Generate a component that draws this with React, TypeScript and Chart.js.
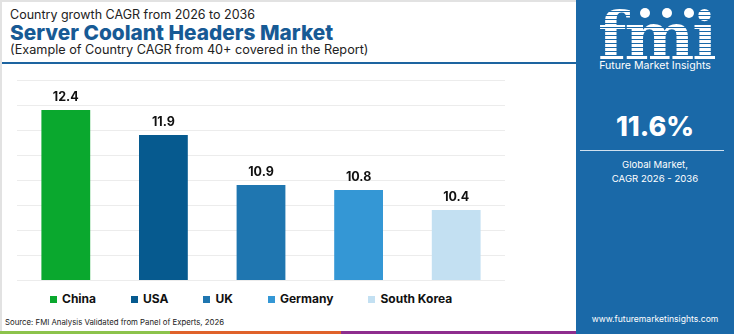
import React, { useEffect, useRef } from "react";
import { Chart, registerables } from "chart.js";

Chart.register(...registerables);

const categories = ["China", "USA", "UK", "Germany", "South Korea"];
const cagrValues = [12.4, 11.9, 10.9, 10.8, 10.4];
const barColors = ["#0aa82e", "#065a8f", "#1f76b0", "#3497d5", "#c3e0f2"];
const axisMin = 9;
const axisMax = 13;
const axisStep = 0.5;

const titleTop = "Country growth CAGR from 2026 to 2036";
const titleMain = "Server Coolant Headers Market";
const titleSub = "(Example of Country CAGR from 40+ covered in the Report)";
const sourceText = "Source: FMI Analysis Validated from Panel of Experts, 2026";
const globalValue = "11.6%";
const globalLabel = ["Global Market,", "CAGR 2026 - 2036"];

const FONT = "Inter, 'Open Sans', sans-serif";

const valueLabels = {
  id: "valueLabels",
  afterDatasetsDraw(chart: any) {
    const ctx = chart.ctx;
    const meta = chart.getDatasetMeta(0);
    ctx.save();
    ctx.font = `bold 12.5px ${FONT}`;
    ctx.fillStyle = "#111";
    ctx.textAlign = "center";
    ctx.textBaseline = "bottom";
    meta.data.forEach((bar: any, i: number) => {
      ctx.fillText(String(chart.data.datasets[0].data[i]), bar.x, bar.y - 7);
    });
    ctx.restore();
  },
};

function BarChart() {
  const ref = useRef<HTMLCanvasElement>(null);
  useEffect(() => {
    if (!ref.current) return;
    const chart = new Chart(ref.current, {
      type: "bar",
      data: {
        labels: categories,
        datasets: [
          {
            data: cagrValues,
            backgroundColor: barColors,
            borderWidth: 0,
            categoryPercentage: 1,
            barPercentage: 0.5,
          },
        ],
      },
      options: {
        animation: false,
        responsive: false,
        maintainAspectRatio: false,
        layout: { padding: { left: 17, right: 71, top: 10, bottom: 0 } },
        plugins: {
          tooltip: { enabled: false },
          legend: { display: false },
        },
        scales: {
          x: {
            grid: { display: false },
            border: { display: false },
            ticks: { display: false },
          },
          y: {
            min: axisMin,
            max: axisMax,
            ticks: { display: false, stepSize: axisStep },
            grid: { color: "#ececec", lineWidth: 1, drawTicks: false },
            border: { display: false },
          },
        },
      },
      plugins: [valueLabels],
    } as any);
    return () => chart.destroy();
  }, []);
  return <canvas ref={ref} width={576} height={218} style={{ position: "absolute", left: 0, top: 70 }} />;
}

function Legend() {
  return (
    <div style={{ position: "absolute", left: 50, top: 291, display: "flex", gap: 35, alignItems: "center", whiteSpace: "nowrap" }}>
      {categories.map((c, i) => (
        <div key={c} style={{ display: "flex", alignItems: "center", gap: 5 }}>
          <div style={{ width: 7, height: 7, background: barColors[i] }} />
          <span style={{ fontSize: 12, fontWeight: 700, color: "#111", lineHeight: "16px" }}>{c}</span>
        </div>
      ))}
    </div>
  );
}

export default function App() {
  return (
    <div
      style={{
        position: "fixed",
        left: 0,
        top: 0,
        width: 750,
        height: 334,
        background: "#fff",
        overflow: "hidden",
        fontFamily: FONT,
      }}
    >
      <div style={{ position: "absolute", left: 0, top: 0, width: 576, height: 334, borderLeft: "2px solid #e2e2e2", borderTop: "2px solid #e2e2e2", boxSizing: "border-box" }} />
      <div style={{ position: "absolute", left: 10, top: 7, fontSize: 12.5, lineHeight: "16px", color: "#222", whiteSpace: "nowrap" }}>{titleTop}</div>
      <div style={{ position: "absolute", left: 10, top: 21, fontSize: 20.8, lineHeight: "24px", fontWeight: 800, color: "#175a95", whiteSpace: "nowrap" }}>{titleMain}</div>
      <div style={{ position: "absolute", left: 10, top: 42, fontSize: 12.7, lineHeight: "16px", color: "#222", whiteSpace: "nowrap" }}>{titleSub}</div>
      <div style={{ position: "absolute", left: 2, top: 62, width: 574, height: 2, background: "#1d64a0" }} />
      <BarChart />
      <Legend />
      <div style={{ position: "absolute", left: 5, top: 317, fontSize: 7.8, lineHeight: "10px", color: "#222", whiteSpace: "nowrap" }}>{sourceText}</div>
      <div style={{ position: "absolute", left: 0, top: 331, width: 170, height: 3, background: "#8cc34b" }} />
      <div style={{ position: "absolute", left: 170, top: 331, width: 171, height: 3, background: "#e0622a" }} />
      <div style={{ position: "absolute", left: 341, top: 331, width: 235, height: 3, background: "#8e2d8e" }} />
      <div style={{ position: "absolute", left: 576, top: 0, width: 158, height: 334, background: "#1a69a8", color: "#fff" }}>
        <div
          style={{
            position: "absolute",
            left: 22,
            top: 8,
            fontSize: 66,
            fontWeight: 900,
            lineHeight: "56px",
            letterSpacing: -2,
            fontFamily: "'DejaVu Serif', serif",
            backgroundImage: "repeating-linear-gradient(180deg, #ffffff 0px, #ffffff 3px, #1a69a8 3px, #1a69a8 4px)",
            WebkitBackgroundClip: "text",
            backgroundClip: "text",
            color: "transparent",
          }}
        >
          fmi
        </div>
        <div style={{ position: "absolute", left: 64, top: 8, width: 10, height: 10, borderRadius: 5, background: "#fff" }} />
        <div style={{ position: "absolute", left: 86, top: 8, width: 10, height: 10, borderRadius: 5, background: "#fff" }} />
        <div style={{ position: "absolute", left: 108, top: 8, width: 10, height: 10, borderRadius: 5, background: "#fff" }} />
        <div style={{ position: "absolute", left: 0, width: 158, top: 59, fontSize: 10.6, lineHeight: "14px", textAlign: "center" }}>Future Market Insights</div>
        <div style={{ position: "absolute", left: 0, width: 158, top: 111, fontSize: 27, lineHeight: "32px", fontWeight: 800, textAlign: "center" }}>{globalValue}</div>
        <div style={{ position: "absolute", left: 4, top: 150, width: 144, height: 1, background: "#cfe0ef" }} />
        <div style={{ position: "absolute", left: 0, width: 158, top: 158, fontSize: 9.6, lineHeight: "14px", textAlign: "center" }}>
          {globalLabel[0]}
          <br />
          {globalLabel[1]}
        </div>
        <div style={{ position: "absolute", left: 0, width: 158, top: 313, fontSize: 8.6, lineHeight: "12px", textAlign: "center" }}>www.futuremarketinsights.com</div>
      </div>
    </div>
  );
}
